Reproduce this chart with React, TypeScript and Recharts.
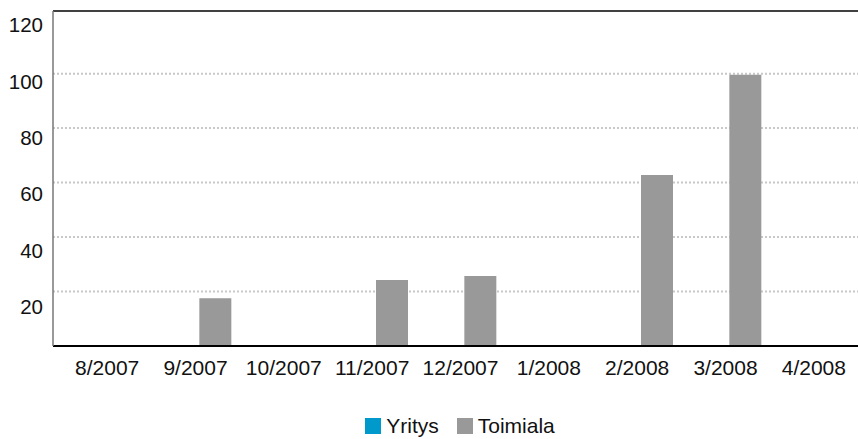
import React from 'react';
import { BarChart, Bar, XAxis, YAxis, CartesianGrid, Legend, ReferenceLine } from 'recharts';

const months = ['8/2007', '9/2007', '10/2007', '11/2007', '12/2007', '1/2008', '2/2008', '3/2008', '4/2008'];
const yritys: (number | null)[] = [null, null, null, null, null, null, null, null, null];
const toimiala: (number | null)[] = [null, 17.5, null, 24.2, 25.7, null, 62.8, 99.6, null];
const yTicks = [20, 40, 60, 80, 100, 120];
const gridValues = [20, 40, 60, 80, 100];
const yMax = 123;

const data = months.map((m, i) => ({ month: m, yritys: yritys[i], toimiala: toimiala[i] }));

const FONT = '"Liberation Sans", Arial, sans-serif';

// labels in the original drift slightly downward toward the bottom
const YTick = ({ x, y, payload }: any) => {
  const off = 6 + ((120 - payload.value) / 20) * 1.8;
  return (
    <text x={x} y={y + off} dy="0.355em" textAnchor="end" fontSize={20.5} fontFamily={FONT} fill="#111">
      {payload.value}
    </text>
  );
};

const LegendContent = () => (
  <div style={{ height: 30, boxSizing: 'border-box', display: 'flex', justifyContent: 'center', alignItems: 'center', fontFamily: FONT, fontSize: 21, color: '#111', paddingLeft: 62, paddingTop: 4 }}>
    <span style={{ display: 'inline-block', width: 16, height: 16, background: '#0099cc', marginRight: 5 }} />
    <span style={{ marginRight: 18 }}>Yritys</span>
    <span style={{ display: 'inline-block', width: 16, height: 16, background: '#999999', marginRight: 5 }} />
    <span>Toimiala</span>
  </div>
);

export default function App() {
  return (
    <div style={{ position: 'absolute', left: 0, top: 0, background: '#fff' }}>
      <BarChart width={858} height={439} data={data} margin={{ top: 11, right: 0, left: 0, bottom: 0 }} barSize={32} barGap={8}>
        <CartesianGrid vertical={false} horizontalValues={gridValues} stroke="#c8c8c8" strokeWidth={2} strokeDasharray="2 2" />
        <XAxis
          dataKey="month"
          height={63}
          padding={{ left: 10, right: 0 }}
          tickLine={false}
          tickSize={0}
          tickMargin={14}
          interval={0}
          axisLine={{ stroke: '#000', strokeWidth: 2 }}
          tick={{ fontSize: 21, fontFamily: FONT, fill: '#111' }}
        />
        <YAxis
          width={53}
          domain={[0, yMax]}
          ticks={yTicks}
          interval={0}
          tickLine={false}
          tickSize={0}
          tickMargin={10}
          axisLine={{ stroke: '#777', strokeWidth: 1.5 }}
          tick={<YTick />}
        />
        <ReferenceLine y={yMax} stroke="#000" strokeWidth={1.5} />
        <Legend verticalAlign="bottom" content={<LegendContent />} />
        <Bar dataKey="yritys" name="Yritys" fill="#0099cc" isAnimationActive={false} />
        <Bar dataKey="toimiala" name="Toimiala" fill="#999999" isAnimationActive={false} />
      </BarChart>
    </div>
  );
}
